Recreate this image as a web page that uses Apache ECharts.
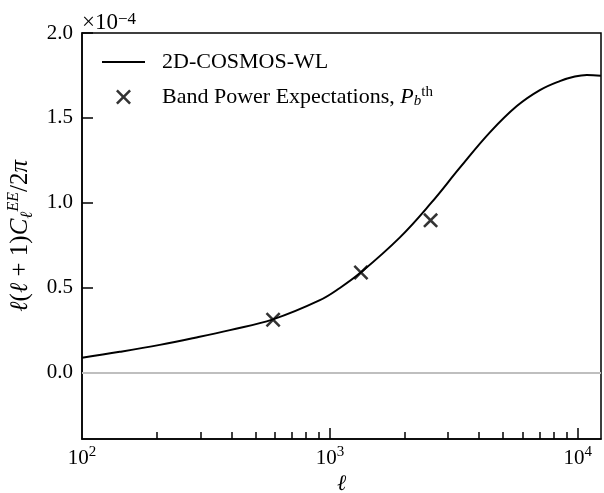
<!DOCTYPE html>
<html><head><meta charset="utf-8">
<script src="https://cdn.jsdelivr.net/npm/echarts@6/dist/echarts.min.js"></script>
<style>html,body{margin:0;padding:0;background:#fff}#c{width:604px;height:493px}</style>
</head><body><div id="c"></div>
<script>
// Model curve (ell, value in units of 1e-4)
const curveEll = [100, 142, 206, 286, 395, 589, 911, 1097, 1334, 1916, 2555, 3344, 4418, 5675, 7029, 8459, 9725, 10872, 12379];
const curveVal = [0.088, 0.123, 0.164, 0.206, 0.251, 0.314, 0.427, 0.499, 0.591, 0.797, 0.998, 1.207, 1.415, 1.570, 1.664, 1.717, 1.744, 1.753, 1.749];
// Band power expectations
const bandEll = [590, 1334, 2547];
const bandVal = [0.312, 0.590, 0.897];
// Ticks
const xMajorTicks = [100, 1000, 10000];
const xMinorTicks = [200, 300, 400, 500, 600, 700, 800, 900, 2000, 3000, 4000, 5000, 6000, 7000, 8000, 9000];
const yTicks = [0, 0.5, 1.0, 1.5, 2.0];
const xMin = 100, xMax = 12400, yMin = -0.39, yMax = 2.0;
const majorTickLen = 0.065; // in y data units (about 11 px)

const FONT = 'Liberation Serif';
const xPath = 'path://M0,1.2L1.2,0L5,3.8L8.8,0L10,1.2L6.2,5L10,8.8L8.8,10L5,6.2L1.2,10L0,8.8L3.8,5Z';
const linePath = 'path://M0,0H43V2H0Z';

const chart = echarts.init(document.getElementById('c'));
const option = {
  animation: false,
  textStyle: {fontFamily: FONT, color: '#000'},
  grid: {left: 82, right: 3, top: 33, bottom: 54, show: true, borderColor: '#000', borderWidth: 1.5,
    containLabel: false, outerBoundsMode: 'none'},
  legend: {
    orient: 'vertical', left: 102, top: 50, padding: 0, itemWidth: 43, itemHeight: 15, itemGap: 11,
    data: [{name: '2D-COSMOS-WL', icon: linePath}, {name: 'Band Power Expectations', icon: xPath}],
    formatter: function (n) { return n === 'Band Power Expectations' ? '{g|}Band Power Expectations, {i|P}{sb|b}{sp|th}' : '{g|}' + n; },
    textStyle: {fontFamily: FONT, fontSize: 22, color: '#000', lineHeight: 24,
      rich: {
        g: {width: 12, height: 10},
        i: {fontFamily: FONT, fontSize: 22, fontStyle: 'italic', lineHeight: 24},
        sb: {fontFamily: FONT, fontSize: 15, fontStyle: 'italic', lineHeight: 14, verticalAlign: 'bottom'},
        sp: {fontFamily: FONT, fontSize: 15, lineHeight: 14, verticalAlign: 'top'}
      }}
  },
  xAxis: [{
    type: 'log', min: xMin, max: xMax, position: 'bottom', z: 3,
    name: 'ℓ', nameLocation: 'middle', nameGap: 19,
    nameTextStyle: {fontFamily: FONT, fontSize: 22, fontStyle: 'italic', color: '#000'},
    axisLine: {onZero: false, lineStyle: {color: '#000', width: 1.5}},
    axisTick: {show: false},
    axisLabel: {customValues: xMajorTicks, margin: 6, color: '#000',
      formatter: function (v) { return '{b|10}{s|' + Math.round(Math.log10(v)) + '}'; },
      rich: {
        b: {fontFamily: FONT, fontSize: 21, lineHeight: 26, color: '#000'},
        s: {fontFamily: FONT, fontSize: 15, lineHeight: 15, verticalAlign: 'top', color: '#000'}
      }},
    splitLine: {show: false}, minorTick: {show: false}
  }, {
    // minor ticks
    type: 'log', min: xMin, max: xMax, position: 'bottom', offset: 0, z: 3,
    axisLine: {show: false, onZero: false},
    axisTick: {show: true, inside: true, length: 7, lineStyle: {color: '#000', width: 1.5}, customValues: xMinorTicks},
    axisLabel: {show: false}, splitLine: {show: false}
  }],
  yAxis: {
    type: 'value', min: yMin, max: yMax, z: 3,
    name: '{i|ℓ}{r|(}{i|ℓ}{r| + 1)}{i|C}{sb|ℓ}{sp|EE}{r|/2}{i|π}',
    nameLocation: 'middle', nameGap: 46, nameRotate: 90,
    nameTextStyle: {fontFamily: FONT, color: '#000', rich: {
      i: {fontFamily: FONT, fontSize: 25, fontStyle: 'italic', lineHeight: 30, color: '#000'},
      r: {fontFamily: FONT, fontSize: 25, lineHeight: 30, color: '#000'},
      sb: {fontFamily: FONT, fontSize: 17, fontStyle: 'italic', lineHeight: 16, verticalAlign: 'bottom', color: '#000'},
      sp: {fontFamily: FONT, fontSize: 16, fontStyle: 'italic', lineHeight: 15, verticalAlign: 'top', color: '#000'}
    }},
    axisLine: {onZero: false, lineStyle: {color: '#000', width: 1.5}},
    axisTick: {inside: true, length: 11, lineStyle: {color: '#000', width: 1.5}, customValues: yTicks},
    axisLabel: {customValues: yTicks, margin: 9, fontFamily: FONT, fontSize: 21, color: '#000',
      formatter: function (v) { return v.toFixed(1); }},
    splitLine: {show: false}
  },
  graphic: [{
    type: 'text', left: 82, top: 11, z: 10,
    style: {text: '×10{s|−4}', fontFamily: FONT, fontSize: 23, fill: '#000',
      rich: {s: {fontFamily: FONT, fontSize: 17, verticalAlign: 'top', lineHeight: 15}}}
  }],
  series: [{
    name: '2D-COSMOS-WL', type: 'line', smooth: 0.4, showSymbol: false, symbol: 'none',
    color: '#000', lineStyle: {color: '#000', width: 2},
    data: curveEll.map((e, i) => [e, curveVal[i]]),
    markLine: {silent: true, symbol: 'none', label: {show: false},
      lineStyle: {color: '#bfbfbf', width: 2, type: 'solid'}, data: [{yAxis: 0}]}
  }, {
    name: 'Band Power Expectations', type: 'scatter', symbol: xPath, symbolSize: 15,
    color: '#000', itemStyle: {color: '#000'},
    data: bandEll.map((e, i) => [e, bandVal[i]]),
    // major x ticks at the decades
    markLine: {silent: true, symbol: 'none', label: {show: false}, animation: false,
      lineStyle: {color: '#000', width: 1.5, type: 'solid'},
      data: xMajorTicks.slice(1).map(t => [{coord: [t, yMin]}, {coord: [t, yMin + majorTickLen]}])}
  }]
};
chart.setOption(option);
</script>
</body></html>
